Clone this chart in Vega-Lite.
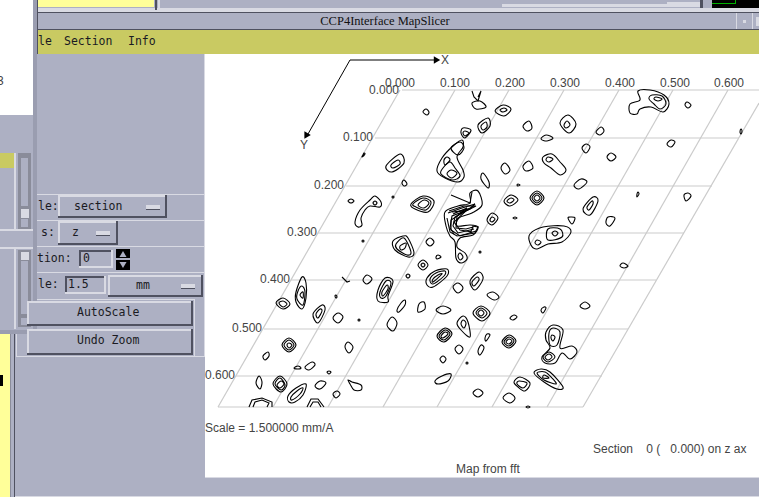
{"$schema":"https://vega.github.io/schema/vega-lite/v6.json","width":759,"height":497,"padding":0,"autosize":{"type":"none"},"background":"#adb0c3","config":{"view":{"stroke":null}},
"datasets":{
"panels":[
{"x":37,"x2":759,"y":8,"y2":12,"part":"light"},{"x":37,"x2":759,"y":12,"y2":13,"part":"dark"},{"x":37,"x2":759,"y":29,"y2":30,"part":"dark"},{"x":37,"x2":759,"y":30,"y2":54,"part":"olive"},
{"x":38,"x2":154,"y":0,"y2":7,"part":"yellow"},{"x":155,"x2":157,"y":0,"y2":10,"part":"dark"},{"x":158,"x2":160,"y":0,"y2":8,"part":"light"},{"x":502,"x2":667,"y":4,"y2":7,"part":"light"},{"x":667,"x2":700,"y":2,"y2":7,"part":"light"},
{"x":700,"x2":703,"y":0,"y2":8,"part":"dark"},{"x":712,"x2":759,"y":0,"y2":8,"part":"black"},{"x":712,"x2":735,"y":3,"y2":4,"part":"green"},{"x":735,"x2":736,"y":0,"y2":4,"part":"green"},
{"x":736,"x2":737,"y":13,"y2":29,"part":"light"},{"x":752,"x2":753,"y":13,"y2":29,"part":"light"},{"x":743,"x2":746,"y":20,"y2":23,"part":"light"},{"x":756,"x2":759,"y":17,"y2":26,"part":"light"},
{"x":205,"x2":759,"y":54,"y2":477,"part":"white"},{"x":205,"x2":759,"y":477,"y2":478,"part":"light"},{"x":14,"x2":759,"y":496,"y2":497,"part":"light"},
{"x":0,"x2":10,"y":333,"y2":497,"part":"yellow"},{"x":0,"x2":3,"y":375,"y2":386,"part":"black"},{"x":10,"x2":11,"y":333,"y2":497,"part":"mid"},{"x":14,"x2":15,"y":333,"y2":497,"part":"dark"},
{"x":33,"x2":37,"y":0,"y2":333,"part":"edge"},{"x":37,"x2":38,"y":0,"y2":54,"part":"dark"},{"x":0,"x2":37,"y":330,"y2":334,"part":"edge"},{"x":0,"x2":33,"y":0,"y2":115,"part":"white"},
{"x":0,"x2":14,"y":153,"y2":168,"part":"olive"},{"x":0,"x2":33,"y":229,"y2":231,"part":"light"},{"x":0,"x2":33,"y":247,"y2":249,"part":"light"},{"x":14,"x2":16,"y":153,"y2":229,"part":"light"},{"x":14,"x2":16,"y":249,"y2":329,"part":"light"},
{"x":18,"x2":31,"y":153,"y2":229,"part":"mid"},{"x":21,"x2":28,"y":158,"y2":206,"part":"panel"},{"x":21,"x2":29,"y":209,"y2":218,"part":"light"},{"x":21,"x2":28,"y":219,"y2":227,"part":"panel"},
{"x":18,"x2":31,"y":250,"y2":327,"part":"mid"},{"x":21,"x2":28,"y":261,"y2":314,"part":"panel"},{"x":21,"x2":29,"y":252,"y2":260,"part":"light"},{"x":21,"x2":28,"y":318,"y2":325,"part":"panel"},
{"x":37,"x2":204,"y":194,"y2":195,"part":"light"},{"x":37,"x2":204,"y":220,"y2":221,"part":"light"},{"x":37,"x2":204,"y":246,"y2":247,"part":"light"},{"x":37,"x2":204,"y":272,"y2":273,"part":"light"},{"x":37,"x2":194,"y":299,"y2":300,"part":"light"},{"x":16,"x2":204,"y":356,"y2":357,"part":"light"},{"x":16,"x2":17,"y":334,"y2":357,"part":"light"},{"x":194,"x2":195,"y":299,"y2":357,"part":"light"},{"x":204,"x2":205,"y":54,"y2":357,"part":"light"},
{"x":58,"x2":167,"y":195,"y2":218,"part":"dark"},{"x":58,"x2":165,"y":195,"y2":216,"part":"light"},{"x":60,"x2":165,"y":197,"y2":216,"part":"panel"},{"x":146,"x2":160,"y":205,"y2":209,"part":"light"},{"x":146,"x2":160,"y":209,"y2":210,"part":"dark"},
{"x":58,"x2":118,"y":221,"y2":245,"part":"dark"},{"x":58,"x2":116,"y":221,"y2":243,"part":"light"},{"x":60,"x2":116,"y":223,"y2":243,"part":"panel"},{"x":96,"x2":110,"y":231,"y2":235,"part":"light"},{"x":96,"x2":110,"y":235,"y2":236,"part":"dark"},
{"x":79,"x2":113,"y":250,"y2":268,"part":"light"},{"x":79,"x2":111,"y":250,"y2":266,"part":"dark"},{"x":81,"x2":111,"y":252,"y2":266,"part":"panel"},{"x":116,"x2":130,"y":249,"y2":258,"part":"black"},{"x":116,"x2":130,"y":260,"y2":270,"part":"black"},
{"x":65,"x2":106,"y":276,"y2":294,"part":"light"},{"x":65,"x2":104,"y":276,"y2":292,"part":"dark"},{"x":67,"x2":104,"y":278,"y2":292,"part":"panel"},
{"x":108,"x2":203,"y":275,"y2":297,"part":"dark"},{"x":108,"x2":201,"y":275,"y2":295,"part":"light"},{"x":110,"x2":201,"y":277,"y2":295,"part":"panel"},{"x":181,"x2":195,"y":284,"y2":288,"part":"light"},{"x":181,"x2":195,"y":288,"y2":289,"part":"dark"},
{"x":27,"x2":193,"y":301,"y2":326,"part":"dark"},{"x":27,"x2":191,"y":301,"y2":324,"part":"light"},{"x":29,"x2":191,"y":303,"y2":324,"part":"panel"},
{"x":27,"x2":193,"y":329,"y2":355,"part":"dark"},{"x":27,"x2":191,"y":329,"y2":353,"part":"light"},{"x":29,"x2":191,"y":331,"y2":353,"part":"panel"}
],
"spin":[{"dir":"up","x":123,"y":254},{"dir":"down","x":123,"y":265}],
"grid":[
{"x":402,"x2":759,"y":90,"y2":90},{"x":375,"x2":739,"y":138,"y2":138},{"x":346,"x2":712,"y":186,"y2":186},{"x":318,"x2":684,"y":233,"y2":233},{"x":291,"x2":656,"y":280,"y2":280},{"x":264,"x2":628,"y":329,"y2":329},{"x":236,"x2":602,"y":376,"y2":376},{"x":218,"x2":583,"y":407,"y2":407},
{"x":218,"x2":400,"y":407,"y2":90},{"x":273,"x2":455,"y":407,"y2":90},{"x":328,"x2":509,"y":407,"y2":90},{"x":383,"x2":564,"y":407,"y2":90},{"x":437,"x2":619,"y":407,"y2":90},{"x":492,"x2":673,"y":407,"y2":90},{"x":547,"x2":728,"y":407,"y2":90},{"x":583,"x2":759,"y":407,"y2":103}
],
"labels":[
{"t":"0.000","x":385,"y":83},{"t":"0.100","x":440,"y":83},{"t":"0.200","x":495,"y":83},{"t":"0.300","x":550,"y":83},{"t":"0.400","x":605,"y":83},{"t":"0.500","x":660,"y":83},{"t":"0.600","x":714,"y":83},
{"t":"0.000","x":369,"y":90},{"t":"0.100","x":343,"y":137},{"t":"0.200","x":314,"y":185},{"t":"0.300","x":287,"y":232},{"t":"0.400","x":260,"y":279},{"t":"0.500","x":232,"y":328},{"t":"0.600","x":205,"y":375},
{"t":"X","x":441,"y":60},{"t":"Y","x":300,"y":145},{"t":"Scale = 1.500000 mm/A","x":205,"y":428},{"t":"Section\u00a0\u00a0\u00a0\u00a00\u00a0(\u00a0\u00a0\u00a00.000)\u00a0on\u00a0z\u00a0ax","x":593,"y":449},{"t":"Map from fft","x":456,"y":469},{"t":"3","x":-3,"y":81}
],
"gui":[
{"t":"le","x":38,"y":42},{"t":"Section","x":64,"y":42},{"t":"Info","x":128,"y":42},{"t":"le:","x":38,"y":207},{"t":"section","x":74,"y":207},{"t":"s:","x":41,"y":233},{"t":"z","x":72,"y":233},{"t":"tion:","x":37,"y":259},{"t":"0","x":83,"y":259},{"t":"le:","x":38,"y":285},{"t":"1.5","x":68,"y":285},{"t":"mm","x":136,"y":286},{"t":"AutoScale","x":77,"y":313},{"t":"Undo Zoom","x":77,"y":341}
],
"title":[{"t":"CCP4Interface MapSlicer","x":385,"y":21}],
"axes":[{"c":"x","x":350,"y":60},{"c":"x","x":436,"y":60},{"c":"y","x":350,"y":60},{"c":"y","x":308,"y":134}],
"heads":[{"axis":"X","x":437,"y":60},{"axis":"Y","x":306,"y":136}],
"strands":[
{"c":1,"x":472,"y":91},{"c":1,"x":474,"y":97},{"c":1,"x":478,"y":101},{"c":1,"x":481,"y":91},{"c":1,"x":478,"y":97},
{"c":2,"x":342,"y":277},{"c":2,"x":346,"y":281},{"c":2,"x":347,"y":282},{"c":2,"x":350,"y":281},
{"c":3,"x":448,"y":213},{"c":3,"x":462,"y":208},{"c":3,"x":475,"y":204},{"c":3,"x":470,"y":209},{"c":3,"x":452,"y":216},{"c":3,"x":450,"y":228},{"c":3,"x":454,"y":234},
{"c":4,"x":452,"y":212},{"c":4,"x":465,"y":211},{"c":4,"x":472,"y":207},{"c":4,"x":455,"y":217},{"c":4,"x":453,"y":226},{"c":4,"x":458,"y":233},{"c":4,"x":474,"y":229},
{"c":5,"x":447,"y":218},{"c":5,"x":450,"y":232},{"c":5,"x":457,"y":236},{"c":5,"x":475,"y":233},{"c":5,"x":478,"y":227},{"c":5,"x":472,"y":226},
{"c":6,"x":455,"y":212},{"c":6,"x":468,"y":209},{"c":6,"x":454,"y":222},{"c":6,"x":460,"y":230},{"c":6,"x":472,"y":232},
{"c":7,"x":253,"y":407},{"c":7,"x":255,"y":402},{"c":7,"x":262,"y":400},{"c":7,"x":269,"y":403},{"c":7,"x":267,"y":407},
{"c":8,"x":249,"y":407},{"c":8,"x":252,"y":400},{"c":8,"x":262,"y":398},{"c":8,"x":272,"y":402},{"c":8,"x":272,"y":407},
{"c":9,"x":307,"y":407},{"c":9,"x":311,"y":399},{"c":9,"x":318,"y":399},{"c":9,"x":324,"y":407},
{"c":10,"x":310,"y":407},{"c":10,"x":313,"y":402},{"c":10,"x":318,"y":402},{"c":10,"x":321,"y":407},
{"c":11,"x":451,"y":195},{"c":11,"x":470,"y":203},{"c":11,"x":472,"y":192},
{"c":12,"x":449,"y":211},{"c":12,"x":464,"y":206},{"c":12,"x":476,"y":206},{"c":12,"x":462,"y":213},{"c":12,"x":451,"y":220},{"c":12,"x":451,"y":230},{"c":12,"x":460,"y":236},{"c":12,"x":476,"y":231},
{"c":13,"x":453,"y":214},{"c":13,"x":467,"y":208},{"c":13,"x":457,"y":216},{"c":13,"x":456,"y":228},{"c":13,"x":466,"y":229},{"c":13,"x":473,"y":227},{"c":13,"x":470,"y":233}
],
"contours":[
{"c":1,"x":426,"y":109},{"c":1,"x":429,"y":112},{"c":1,"x":427,"y":115},{"c":1,"x":423,"y":112},
{"c":2,"x":472,"y":103},{"c":2,"x":480,"y":101},{"c":2,"x":486,"y":107},{"c":2,"x":476,"y":109},
{"c":3,"x":503,"y":105},{"c":3,"x":511,"y":109},{"c":3,"x":504,"y":116},{"c":3,"x":495,"y":111},
{"c":4,"x":504,"y":108},{"c":4,"x":507,"y":110},{"c":4,"x":503,"y":112},{"c":4,"x":500,"y":110},
{"c":5,"x":488,"y":118},{"c":5,"x":490,"y":126},{"c":5,"x":482,"y":133},{"c":5,"x":478,"y":125},
{"c":6,"x":486,"y":122},{"c":6,"x":487,"y":127},{"c":6,"x":483,"y":130},{"c":6,"x":481,"y":126},
{"c":7,"x":463,"y":128},{"c":7,"x":471,"y":130},{"c":7,"x":465,"y":138},{"c":7,"x":461,"y":133},
{"c":8,"x":465,"y":131},{"c":8,"x":469,"y":133},{"c":8,"x":465,"y":136},{"c":8,"x":463,"y":133},
{"c":9,"x":460,"y":142},{"c":9,"x":464,"y":148},{"c":9,"x":458,"y":155},{"c":9,"x":451,"y":148},
{"c":10,"x":462,"y":140},{"c":10,"x":463,"y":147},{"c":10,"x":457,"y":157},{"c":10,"x":463,"y":170},{"c":10,"x":464,"y":177},{"c":10,"x":458,"y":182},{"c":10,"x":445,"y":178},{"c":10,"x":437,"y":171},{"c":10,"x":442,"y":158},{"c":10,"x":453,"y":146},
{"c":11,"x":447,"y":157},{"c":11,"x":450,"y":160},{"c":11,"x":445,"y":165},{"c":11,"x":444,"y":160},
{"c":12,"x":451,"y":170},{"c":12,"x":457,"y":173},{"c":12,"x":452,"y":178},{"c":12,"x":447,"y":174},
{"c":13,"x":443,"y":168},{"c":13,"x":450,"y":162},{"c":13,"x":455,"y":168},{"c":13,"x":460,"y":176},{"c":13,"x":452,"y":180},{"c":13,"x":441,"y":174},
{"c":14,"x":400,"y":154},{"c":14,"x":404,"y":163},{"c":14,"x":392,"y":172},{"c":14,"x":386,"y":166},
{"c":15,"x":398,"y":160},{"c":15,"x":400,"y":164},{"c":15,"x":393,"y":168},{"c":15,"x":391,"y":165},
{"c":16,"x":404,"y":180},{"c":16,"x":407,"y":184},{"c":16,"x":404,"y":186},{"c":16,"x":402,"y":183},
{"c":17,"x":423,"y":196},{"c":17,"x":434,"y":201},{"c":17,"x":428,"y":212},{"c":17,"x":415,"y":209},{"c":17,"x":411,"y":204},
{"c":18,"x":423,"y":198},{"c":18,"x":431,"y":202},{"c":18,"x":426,"y":210},{"c":18,"x":416,"y":207},{"c":18,"x":413,"y":204},
{"c":19,"x":424,"y":200},{"c":19,"x":429,"y":203},{"c":19,"x":424,"y":208},{"c":19,"x":418,"y":205},
{"c":20,"x":568,"y":115},{"c":20,"x":576,"y":124},{"c":20,"x":569,"y":133},{"c":20,"x":560,"y":123},
{"c":21,"x":567,"y":121},{"c":21,"x":570,"y":125},{"c":21,"x":566,"y":128},{"c":21,"x":564,"y":125},
{"c":22,"x":529,"y":121},{"c":22,"x":532,"y":128},{"c":22,"x":527,"y":131},{"c":22,"x":523,"y":126},
{"c":23,"x":601,"y":127},{"c":23,"x":604,"y":131},{"c":23,"x":600,"y":135},{"c":23,"x":596,"y":132},
{"c":24,"x":546,"y":135},{"c":24,"x":553,"y":138},{"c":24,"x":547,"y":141},{"c":24,"x":541,"y":139},
{"c":25,"x":586,"y":144},{"c":25,"x":590,"y":147},{"c":25,"x":586,"y":153},{"c":25,"x":582,"y":148},
{"c":26,"x":611,"y":153},{"c":26,"x":616,"y":157},{"c":26,"x":611,"y":161},{"c":26,"x":607,"y":157},
{"c":27,"x":671,"y":140},{"c":27,"x":675,"y":142},{"c":27,"x":671,"y":147},{"c":27,"x":667,"y":144},
{"c":28,"x":687,"y":102},{"c":28,"x":691,"y":105},{"c":28,"x":688,"y":108},{"c":28,"x":685,"y":105},
{"c":29,"x":741,"y":129},{"c":29,"x":742,"y":131},{"c":29,"x":741,"y":134},{"c":29,"x":740,"y":132},
{"c":30,"x":638,"y":91},{"c":30,"x":650,"y":90},{"c":30,"x":664,"y":95},{"c":30,"x":669,"y":104},{"c":30,"x":663,"y":112},{"c":30,"x":651,"y":107},{"c":30,"x":640,"y":109},{"c":30,"x":637,"y":114},{"c":30,"x":630,"y":113},{"c":30,"x":630,"y":104},{"c":30,"x":640,"y":100},
{"c":31,"x":652,"y":95},{"c":31,"x":662,"y":96},{"c":31,"x":666,"y":104},{"c":31,"x":660,"y":109},{"c":31,"x":654,"y":104},{"c":31,"x":649,"y":99},
{"c":32,"x":656,"y":97},{"c":32,"x":662,"y":99},{"c":32,"x":658,"y":101},{"c":32,"x":654,"y":99},
{"c":33,"x":505,"y":163},{"c":33,"x":510,"y":170},{"c":33,"x":505,"y":174},{"c":33,"x":501,"y":168},
{"c":34,"x":529,"y":161},{"c":34,"x":533,"y":168},{"c":34,"x":526,"y":171},{"c":34,"x":523,"y":166},
{"c":35,"x":543,"y":157},{"c":35,"x":552,"y":154},{"c":35,"x":560,"y":162},{"c":35,"x":566,"y":170},{"c":35,"x":560,"y":175},{"c":35,"x":551,"y":168},{"c":35,"x":544,"y":163},
{"c":36,"x":548,"y":157},{"c":36,"x":553,"y":159},{"c":36,"x":549,"y":162},{"c":36,"x":546,"y":160},
{"c":37,"x":483,"y":173},{"c":37,"x":489,"y":182},{"c":37,"x":488,"y":188},{"c":37,"x":481,"y":179},
{"c":38,"x":581,"y":179},{"c":38,"x":587,"y":182},{"c":38,"x":579,"y":189},{"c":38,"x":574,"y":185},
{"c":39,"x":688,"y":193},{"c":39,"x":691,"y":196},{"c":39,"x":686,"y":201},{"c":39,"x":684,"y":195},
{"c":40,"x":537,"y":191},{"c":40,"x":544,"y":198},{"c":40,"x":537,"y":205},{"c":40,"x":530,"y":198},
{"c":41,"x":537,"y":193},{"c":41,"x":542,"y":198},{"c":41,"x":537,"y":203},{"c":41,"x":532,"y":198},
{"c":42,"x":537,"y":195},{"c":42,"x":540,"y":198},{"c":42,"x":537,"y":201},{"c":42,"x":534,"y":198},
{"c":43,"x":511,"y":195},{"c":43,"x":518,"y":200},{"c":43,"x":510,"y":206},{"c":43,"x":504,"y":201},
{"c":44,"x":511,"y":198},{"c":44,"x":514,"y":200},{"c":44,"x":510,"y":203},{"c":44,"x":507,"y":201},
{"c":45,"x":593,"y":197},{"c":45,"x":598,"y":201},{"c":45,"x":590,"y":215},{"c":45,"x":583,"y":209},
{"c":46,"x":592,"y":201},{"c":46,"x":593,"y":204},{"c":46,"x":589,"y":210},{"c":46,"x":587,"y":207},
{"c":47,"x":608,"y":217},{"c":47,"x":615,"y":218},{"c":47,"x":610,"y":226},{"c":47,"x":606,"y":223},
{"c":48,"x":571,"y":217},{"c":48,"x":575,"y":218},{"c":48,"x":572,"y":224},{"c":48,"x":568,"y":218},
{"c":49,"x":492,"y":213},{"c":49,"x":498,"y":218},{"c":49,"x":492,"y":225},{"c":49,"x":487,"y":220},
{"c":50,"x":492,"y":217},{"c":50,"x":495,"y":219},{"c":50,"x":492,"y":222},{"c":50,"x":490,"y":220},
{"c":51,"x":530,"y":234},{"c":51,"x":543,"y":227},{"c":51,"x":564,"y":226},{"c":51,"x":571,"y":232},{"c":51,"x":562,"y":242},{"c":51,"x":548,"y":244},{"c":51,"x":536,"y":249},{"c":51,"x":530,"y":243},
{"c":52,"x":548,"y":229},{"c":52,"x":560,"y":229},{"c":52,"x":562,"y":237},{"c":52,"x":548,"y":240},
{"c":53,"x":555,"y":231},{"c":53,"x":558,"y":233},{"c":53,"x":555,"y":236},{"c":53,"x":552,"y":233},
{"c":54,"x":537,"y":240},{"c":54,"x":541,"y":242},{"c":54,"x":538,"y":245},{"c":54,"x":535,"y":243},
{"c":55,"x":445,"y":212},{"c":55,"x":458,"y":206},{"c":55,"x":470,"y":203},{"c":55,"x":470,"y":193},{"c":55,"x":478,"y":191},{"c":55,"x":482,"y":205},{"c":55,"x":472,"y":213},{"c":55,"x":459,"y":218},{"c":55,"x":457,"y":226},{"c":55,"x":470,"y":225},{"c":55,"x":478,"y":227},{"c":55,"x":473,"y":235},{"c":55,"x":460,"y":238},{"c":55,"x":457,"y":247},{"c":55,"x":465,"y":253},{"c":55,"x":467,"y":259},{"c":55,"x":461,"y":263},{"c":55,"x":456,"y":258},{"c":55,"x":455,"y":242},{"c":55,"x":450,"y":236},{"c":55,"x":446,"y":226},
{"c":56,"x":460,"y":253},{"c":56,"x":463,"y":257},{"c":56,"x":460,"y":260},{"c":56,"x":458,"y":256},
{"c":57,"x":351,"y":199},{"c":57,"x":354,"y":201},{"c":57,"x":351,"y":203},{"c":57,"x":348,"y":201},
{"c":58,"x":370,"y":200},{"c":58,"x":375,"y":196},{"c":58,"x":381,"y":202},{"c":58,"x":380,"y":207},{"c":58,"x":370,"y":206},{"c":58,"x":365,"y":210},{"c":58,"x":361,"y":218},{"c":58,"x":362,"y":225},{"c":58,"x":358,"y":227},{"c":58,"x":355,"y":222},{"c":58,"x":360,"y":210},
{"c":59,"x":375,"y":201},{"c":59,"x":377,"y":203},{"c":59,"x":375,"y":205},{"c":59,"x":373,"y":203},
{"c":60,"x":393,"y":241},{"c":60,"x":403,"y":236},{"c":60,"x":408,"y":238},{"c":60,"x":414,"y":253},{"c":60,"x":408,"y":257},{"c":60,"x":395,"y":250},
{"c":61,"x":396,"y":244},{"c":61,"x":404,"y":238},{"c":61,"x":411,"y":252},{"c":61,"x":407,"y":255},{"c":61,"x":397,"y":249},
{"c":62,"x":400,"y":246},{"c":62,"x":406,"y":243},{"c":62,"x":405,"y":248},{"c":62,"x":401,"y":250},
{"c":63,"x":430,"y":238},{"c":63,"x":434,"y":242},{"c":63,"x":430,"y":246},{"c":63,"x":426,"y":242},
{"c":64,"x":438,"y":255},{"c":64,"x":441,"y":257},{"c":64,"x":437,"y":259},{"c":64,"x":436,"y":257},
{"c":65,"x":423,"y":260},{"c":65,"x":428,"y":265},{"c":65,"x":423,"y":270},{"c":65,"x":418,"y":265},
{"c":66,"x":423,"y":263},{"c":66,"x":425,"y":265},{"c":66,"x":423,"y":267},{"c":66,"x":421,"y":265},
{"c":67,"x":408,"y":274},{"c":67,"x":410,"y":276},{"c":67,"x":408,"y":278},{"c":67,"x":406,"y":276},
{"c":68,"x":427,"y":278},{"c":68,"x":435,"y":271},{"c":68,"x":447,"y":269},{"c":68,"x":447,"y":276},{"c":68,"x":433,"y":287},{"c":68,"x":427,"y":285},
{"c":69,"x":430,"y":279},{"c":69,"x":436,"y":273},{"c":69,"x":445,"y":271},{"c":69,"x":444,"y":276},{"c":69,"x":433,"y":284},
{"c":70,"x":433,"y":279},{"c":70,"x":438,"y":275},{"c":70,"x":442,"y":274},{"c":70,"x":433,"y":282},
{"c":71,"x":479,"y":272},{"c":71,"x":483,"y":279},{"c":71,"x":475,"y":290},{"c":71,"x":470,"y":281},
{"c":72,"x":477,"y":277},{"c":72,"x":479,"y":280},{"c":72,"x":474,"y":286},{"c":72,"x":472,"y":282},
{"c":73,"x":458,"y":283},{"c":73,"x":463,"y":288},{"c":73,"x":458,"y":293},{"c":73,"x":453,"y":287},
{"c":74,"x":493,"y":292},{"c":74,"x":499,"y":297},{"c":74,"x":494,"y":300},{"c":74,"x":487,"y":295},
{"c":75,"x":481,"y":306},{"c":75,"x":490,"y":313},{"c":75,"x":482,"y":321},{"c":75,"x":473,"y":313},
{"c":76,"x":481,"y":308},{"c":76,"x":487,"y":313},{"c":76,"x":482,"y":318},{"c":76,"x":476,"y":313},
{"c":77,"x":481,"y":310},{"c":77,"x":484,"y":313},{"c":77,"x":481,"y":316},{"c":77,"x":478,"y":313},
{"c":78,"x":463,"y":316},{"c":78,"x":468,"y":322},{"c":78,"x":470,"y":337},{"c":78,"x":461,"y":330},{"c":78,"x":457,"y":323},
{"c":79,"x":463,"y":320},{"c":79,"x":466,"y":323},{"c":79,"x":464,"y":328},{"c":79,"x":461,"y":324},
{"c":80,"x":443,"y":306},{"c":80,"x":451,"y":310},{"c":80,"x":443,"y":314},{"c":80,"x":436,"y":310},
{"c":81,"x":424,"y":302},{"c":81,"x":425,"y":309},{"c":81,"x":418,"y":312},{"c":81,"x":419,"y":304},
{"c":82,"x":405,"y":300},{"c":82,"x":405,"y":305},{"c":82,"x":399,"y":312},{"c":82,"x":397,"y":310},{"c":82,"x":401,"y":303},
{"c":83,"x":392,"y":317},{"c":83,"x":397,"y":323},{"c":83,"x":393,"y":331},{"c":83,"x":387,"y":325},
{"c":84,"x":385,"y":278},{"c":84,"x":393,"y":281},{"c":84,"x":388,"y":296},{"c":84,"x":388,"y":302},{"c":84,"x":378,"y":301},{"c":84,"x":378,"y":290},
{"c":85,"x":386,"y":281},{"c":85,"x":391,"y":283},{"c":85,"x":386,"y":296},{"c":85,"x":381,"y":298},{"c":85,"x":380,"y":292},
{"c":86,"x":387,"y":285},{"c":86,"x":388,"y":289},{"c":86,"x":383,"y":296},{"c":86,"x":382,"y":292},
{"c":87,"x":367,"y":275},{"c":87,"x":372,"y":279},{"c":87,"x":367,"y":284},{"c":87,"x":363,"y":280},
{"c":88,"x":302,"y":277},{"c":88,"x":306,"y":283},{"c":88,"x":306,"y":298},{"c":88,"x":302,"y":309},{"c":88,"x":296,"y":302},{"c":88,"x":296,"y":292},
{"c":89,"x":302,"y":286},{"c":89,"x":305,"y":292},{"c":89,"x":303,"y":305},{"c":89,"x":297,"y":299},{"c":89,"x":298,"y":291},
{"c":90,"x":303,"y":292},{"c":90,"x":303,"y":298},{"c":90,"x":300,"y":295},
{"c":91,"x":283,"y":298},{"c":91,"x":290,"y":304},{"c":91,"x":283,"y":309},{"c":91,"x":276,"y":303},
{"c":92,"x":283,"y":301},{"c":92,"x":287,"y":304},{"c":92,"x":283,"y":307},{"c":92,"x":279,"y":303},
{"c":93,"x":322,"y":305},{"c":93,"x":325,"y":310},{"c":93,"x":318,"y":323},{"c":93,"x":313,"y":314},
{"c":94,"x":320,"y":309},{"c":94,"x":322,"y":311},{"c":94,"x":318,"y":318},{"c":94,"x":316,"y":314},
{"c":95,"x":338,"y":313},{"c":95,"x":343,"y":317},{"c":95,"x":338,"y":323},{"c":95,"x":333,"y":318},
{"c":96,"x":336,"y":295},{"c":96,"x":337,"y":297},{"c":96,"x":336,"y":298},{"c":96,"x":335,"y":296},
{"c":97,"x":363,"y":240},{"c":97,"x":364,"y":241},{"c":97,"x":363,"y":242},{"c":97,"x":362,"y":241},
{"c":98,"x":359,"y":319},{"c":98,"x":360,"y":320},{"c":98,"x":359,"y":321},{"c":98,"x":358,"y":320},
{"c":99,"x":393,"y":196},{"c":99,"x":394,"y":197},{"c":99,"x":393,"y":198},{"c":99,"x":392,"y":197},
{"c":100,"x":348,"y":342},{"c":100,"x":353,"y":347},{"c":100,"x":349,"y":353},{"c":100,"x":345,"y":347},
{"c":101,"x":289,"y":338},{"c":101,"x":296,"y":345},{"c":101,"x":289,"y":352},{"c":101,"x":282,"y":345},
{"c":102,"x":289,"y":340},{"c":102,"x":294,"y":345},{"c":102,"x":289,"y":350},{"c":102,"x":284,"y":345},
{"c":103,"x":289,"y":343},{"c":103,"x":292,"y":345},{"c":103,"x":289,"y":348},{"c":103,"x":287,"y":345},
{"c":104,"x":268,"y":352},{"c":104,"x":269,"y":356},{"c":104,"x":265,"y":360},{"c":104,"x":263,"y":356},
{"c":105,"x":298,"y":366},{"c":105,"x":301,"y":368},{"c":105,"x":298,"y":369},{"c":105,"x":294,"y":368},
{"c":106,"x":312,"y":362},{"c":106,"x":315,"y":365},{"c":106,"x":309,"y":370},{"c":106,"x":305,"y":367},
{"c":107,"x":329,"y":371},{"c":107,"x":331,"y":372},{"c":107,"x":329,"y":374},{"c":107,"x":327,"y":372},
{"c":108,"x":259,"y":376},{"c":108,"x":262,"y":382},{"c":108,"x":260,"y":389},{"c":108,"x":256,"y":383},
{"c":109,"x":280,"y":376},{"c":109,"x":287,"y":384},{"c":109,"x":281,"y":392},{"c":109,"x":273,"y":384},
{"c":110,"x":280,"y":378},{"c":110,"x":285,"y":385},{"c":110,"x":281,"y":390},{"c":110,"x":275,"y":384},
{"c":111,"x":281,"y":381},{"c":111,"x":284,"y":384},{"c":111,"x":280,"y":388},{"c":111,"x":277,"y":385},
{"c":112,"x":288,"y":396},{"c":112,"x":296,"y":388},{"c":112,"x":306,"y":384},{"c":112,"x":303,"y":395},{"c":112,"x":295,"y":402},{"c":112,"x":289,"y":402},
{"c":113,"x":291,"y":397},{"c":113,"x":297,"y":391},{"c":113,"x":303,"y":388},{"c":113,"x":300,"y":394},{"c":113,"x":292,"y":400},
{"c":114,"x":320,"y":381},{"c":114,"x":326,"y":383},{"c":114,"x":320,"y":389},{"c":114,"x":315,"y":386},
{"c":115,"x":337,"y":391},{"c":115,"x":340,"y":394},{"c":115,"x":336,"y":398},{"c":115,"x":333,"y":394},
{"c":116,"x":348,"y":380},{"c":116,"x":352,"y":382},{"c":116,"x":361,"y":385},{"c":116,"x":361,"y":390},{"c":116,"x":354,"y":390},{"c":116,"x":350,"y":384},
{"c":117,"x":623,"y":263},{"c":117,"x":628,"y":266},{"c":117,"x":624,"y":268},{"c":117,"x":620,"y":266},
{"c":118,"x":445,"y":328},{"c":118,"x":452,"y":334},{"c":118,"x":444,"y":342},{"c":118,"x":437,"y":336},
{"c":119,"x":445,"y":330},{"c":119,"x":450,"y":334},{"c":119,"x":444,"y":340},{"c":119,"x":439,"y":336},
{"c":120,"x":445,"y":332},{"c":120,"x":448,"y":334},{"c":120,"x":443,"y":338},{"c":120,"x":441,"y":336},
{"c":121,"x":487,"y":334},{"c":121,"x":490,"y":335},{"c":121,"x":486,"y":341},{"c":121,"x":485,"y":338},
{"c":122,"x":481,"y":345},{"c":122,"x":484,"y":348},{"c":122,"x":480,"y":355},{"c":122,"x":478,"y":351},
{"c":123,"x":459,"y":345},{"c":123,"x":463,"y":349},{"c":123,"x":459,"y":354},{"c":123,"x":455,"y":349},
{"c":124,"x":443,"y":356},{"c":124,"x":446,"y":359},{"c":124,"x":443,"y":363},{"c":124,"x":440,"y":359},
{"c":125,"x":467,"y":362},{"c":125,"x":468,"y":363},{"c":125,"x":467,"y":364},{"c":125,"x":466,"y":363},
{"c":126,"x":435,"y":381},{"c":126,"x":442,"y":376},{"c":126,"x":451,"y":374},{"c":126,"x":448,"y":381},{"c":126,"x":438,"y":384},
{"c":127,"x":478,"y":389},{"c":127,"x":483,"y":393},{"c":127,"x":478,"y":397},{"c":127,"x":473,"y":393},
{"c":128,"x":509,"y":393},{"c":128,"x":515,"y":398},{"c":128,"x":510,"y":403},{"c":128,"x":503,"y":398},
{"c":129,"x":514,"y":382},{"c":129,"x":520,"y":377},{"c":129,"x":530,"y":383},{"c":129,"x":525,"y":391},{"c":129,"x":518,"y":387},
{"c":130,"x":519,"y":381},{"c":130,"x":527,"y":383},{"c":130,"x":523,"y":388},{"c":130,"x":517,"y":384},
{"c":131,"x":534,"y":373},{"c":131,"x":541,"y":369},{"c":131,"x":550,"y":372},{"c":131,"x":563,"y":387},{"c":131,"x":557,"y":389},{"c":131,"x":544,"y":382},
{"c":132,"x":537,"y":373},{"c":132,"x":545,"y":372},{"c":132,"x":552,"y":378},{"c":132,"x":556,"y":384},{"c":132,"x":544,"y":380},
{"c":133,"x":544,"y":375},{"c":133,"x":549,"y":378},{"c":133,"x":543,"y":378},
{"c":134,"x":509,"y":335},{"c":134,"x":516,"y":341},{"c":134,"x":509,"y":348},{"c":134,"x":502,"y":342},
{"c":135,"x":509,"y":337},{"c":135,"x":514,"y":341},{"c":135,"x":509,"y":346},{"c":135,"x":504,"y":342},
{"c":136,"x":509,"y":339},{"c":136,"x":512,"y":341},{"c":136,"x":509,"y":344},{"c":136,"x":506,"y":342},
{"c":137,"x":514,"y":315},{"c":137,"x":517,"y":317},{"c":137,"x":513,"y":320},{"c":137,"x":510,"y":318},
{"c":138,"x":544,"y":307},{"c":138,"x":546,"y":308},{"c":138,"x":543,"y":313},{"c":138,"x":541,"y":310},
{"c":139,"x":585,"y":302},{"c":139,"x":590,"y":306},{"c":139,"x":585,"y":309},{"c":139,"x":580,"y":306},
{"c":140,"x":546,"y":332},{"c":140,"x":553,"y":325},{"c":140,"x":563,"y":330},{"c":140,"x":560,"y":348},{"c":140,"x":572,"y":346},{"c":140,"x":577,"y":352},{"c":140,"x":570,"y":359},{"c":140,"x":562,"y":353},{"c":140,"x":555,"y":363},{"c":140,"x":545,"y":363},{"c":140,"x":542,"y":357},{"c":140,"x":550,"y":348},{"c":140,"x":546,"y":340},
{"c":141,"x":549,"y":333},{"c":141,"x":553,"y":328},{"c":141,"x":560,"y":332},{"c":141,"x":557,"y":345},{"c":141,"x":550,"y":345},
{"c":142,"x":552,"y":335},{"c":142,"x":555,"y":337},{"c":142,"x":553,"y":341},{"c":142,"x":551,"y":338},
{"c":143,"x":549,"y":352},{"c":143,"x":555,"y":357},{"c":143,"x":548,"y":362},{"c":143,"x":543,"y":357},
{"c":144,"x":549,"y":354},{"c":144,"x":552,"y":357},{"c":144,"x":548,"y":360},{"c":144,"x":545,"y":357},
{"c":145,"x":528,"y":406},{"c":145,"x":530,"y":407},{"c":145,"x":528,"y":408},{"c":145,"x":526,"y":407},
{"c":146,"x":518,"y":184},{"c":146,"x":520,"y":185},{"c":146,"x":518,"y":186},{"c":146,"x":517,"y":185},
{"c":147,"x":515,"y":217},{"c":147,"x":517,"y":218},{"c":147,"x":515,"y":219},{"c":147,"x":513,"y":218},
{"c":148,"x":638,"y":192},{"c":148,"x":639,"y":194},{"c":148,"x":637,"y":197},{"c":148,"x":637,"y":194},
{"c":149,"x":364,"y":153},{"c":149,"x":365,"y":154},{"c":149,"x":362,"y":157},{"c":149,"x":363,"y":155},
{"c":150,"x":480,"y":251},{"c":150,"x":481,"y":252},{"c":150,"x":480,"y":253},{"c":150,"x":479,"y":252}
]},
"encoding":{
"x":{"field":"x","type":"quantitative","scale":{"domain":[0,759]},"axis":null},
"y":{"field":"y","type":"quantitative","scale":{"domain":[497,0]},"axis":null}
},
"layer":[
{"data":{"name":"panels"},"mark":{"type":"rect","clip":true},"encoding":{"x2":{"field":"x2"},"y2":{"field":"y2"},"color":{"field":"part","type":"nominal","legend":null,"scale":{"domain":["panel","light","dark","mid","edge","olive","yellow","white","black","green"],"range":["#adb0c3","#d9dae3","#4f5160","#8a8c9a","#9a9db0","#c9ca62","#ffff99","#ffffff","#000000","#00b000"]}}}},
{"data":{"name":"spin"},"mark":{"type":"point","filled":true,"opacity":1,"color":"#adb0c3","size":50},"encoding":{"shape":{"field":"dir","type":"nominal","legend":null,"scale":{"domain":["up","down"],"range":["triangle-up","triangle-down"]}}}},
{"data":{"name":"grid"},"mark":{"type":"rule","color":"#cbcbcb","strokeWidth":1.2},"encoding":{"x2":{"field":"x2"},"y2":{"field":"y2"}}},
{"data":{"name":"axes"},"mark":{"type":"line","color":"#000000","strokeWidth":1},"encoding":{"detail":{"field":"c"},"order":{"value":null}}},
{"data":{"name":"heads"},"mark":{"type":"point","filled":true,"opacity":1,"color":"#000000","shape":"triangle-right","size":55},"encoding":{"angle":{"field":"axis","type":"nominal","legend":null,"scale":{"domain":["X","Y"],"range":[0,120]}}}},
{"data":{"name":"contours"},"mark":{"type":"line","color":"#000000","strokeWidth":1.1,"interpolate":"cardinal-closed"},"encoding":{"detail":{"field":"c"},"order":{"value":null}}},
{"data":{"name":"strands"},"mark":{"type":"line","color":"#000000","strokeWidth":1.1},"encoding":{"detail":{"field":"c"},"order":{"value":null}}},
{"data":{"name":"labels"},"mark":{"type":"text","align":"left","baseline":"middle","font":"Liberation Sans","fontSize":12,"color":"#444444","clip":true},"encoding":{"text":{"field":"t"}}},
{"data":{"name":"gui"},"mark":{"type":"text","align":"left","baseline":"middle","font":"DejaVu Sans Mono","fontSize":11.5,"color":"#1a1a22"},"encoding":{"text":{"field":"t"}}},
{"data":{"name":"title"},"mark":{"type":"text","align":"center","baseline":"middle","font":"Liberation Serif","fontSize":12.5,"color":"#111111"},"encoding":{"text":{"field":"t"}}}
]}
